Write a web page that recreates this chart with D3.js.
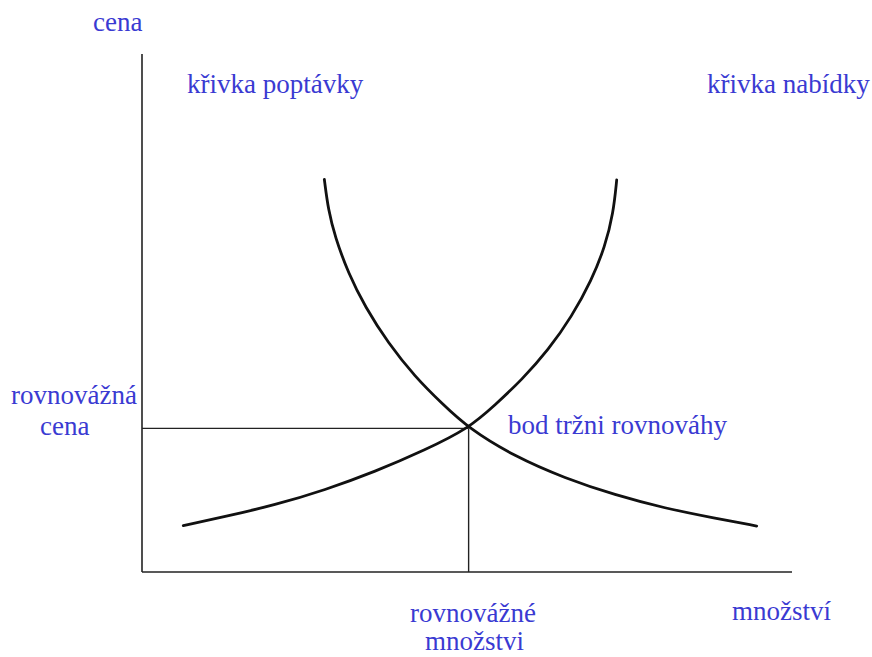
<!DOCTYPE html>
<html>
<head>
<meta charset="utf-8">
<script src="https://cdn.jsdelivr.net/npm/d3@7"></script>
<style>
  body { margin: 0; background: #fff; }
  text { font-family: "Liberation Serif", "Times New Roman", serif; font-size: 27px; fill: #3a3ad2; }
</style>
</head>
<body>
<div id="chart"></div>
<script>
// demand curve (quantity, price)
var demandQ = [28.05, 28.66, 29.69, 31.74, 34.31, 37.89, 42.0, 46.11, 50.25, 57.38, 65.08, 72.77, 80.46, 88.15, 94.57];
var demandP = [75.81, 69.88, 64.73, 57.66, 51.22, 44.15, 37.7, 32.57, 27.72, 22.26, 18.09, 14.86, 12.30, 10.37, 8.88];
// supply curve (quantity, price)
var supplyQ = [6.35, 12.77, 20.46, 28.15, 35.85, 43.54, 50.25, 54.31, 58.42, 62.51, 66.11, 69.18, 71.23, 72.51, 73.03];
var supplyP = [8.94, 10.68, 12.93, 15.83, 19.36, 23.55, 27.72, 32.24, 37.07, 42.86, 49.29, 56.37, 62.80, 69.25, 75.68];
// equilibrium
var eqQ = 50.25;
var eqP = 27.72;

function base(){
    var w = 872;
    var h = 657;

    var svg = d3.select("#chart")
    .append("svg")
    .attr("width", w)
    .attr("height", h);

    var xScale = d3.scaleLinear().domain([0, 100]).range([142, 792]);
    var yScale = d3.scaleLinear().domain([0, 100]).range([572, 54]);

    var line = d3.line()
    .x(function(d) { return xScale(d[0]); })
    .y(function(d) { return yScale(d[1]); })
    .curve(d3.curveBasis);

    //axes
    svg.append("line")
    .attr("x1", xScale(0)).attr("x2", xScale(0))
    .attr("y1", yScale(0)).attr("y2", yScale(100))
    .attr("stroke", "#222").attr("stroke-width", 1.6);
    svg.append("line")
    .attr("x1", xScale(0)).attr("x2", xScale(100))
    .attr("y1", yScale(0)).attr("y2", yScale(0))
    .attr("stroke", "#222").attr("stroke-width", 1.6);

    //equilibrium guides
    svg.append("line")
    .attr("x1", xScale(0)).attr("x2", xScale(eqQ))
    .attr("y1", yScale(eqP)).attr("y2", yScale(eqP))
    .attr("stroke", "#222").attr("stroke-width", 1.4);
    svg.append("line")
    .attr("x1", xScale(eqQ)).attr("x2", xScale(eqQ))
    .attr("y1", yScale(eqP)).attr("y2", yScale(0))
    .attr("stroke", "#222").attr("stroke-width", 1.4);

    //curves
    var demand = demandQ.map(function(q, i) { return [q, demandP[i]]; });
    var supply = supplyQ.map(function(q, i) { return [q, supplyP[i]]; });

    svg.selectAll("path.curve")
    .data([demand, supply])
    .enter()
    .append("path")
    .attr("class", "curve")
    .attr("d", line)
    .attr("fill", "none")
    .attr("stroke", "#111")
    .attr("stroke-width", 2.8)
    .attr("stroke-linecap", "round");

    //labels
    var labels = [
        ["cena", 93, 31],
        ["křivka poptávky", 187, 93],
        ["křivka nabídky", 707, 93],
        ["rovnovážná", 11, 404],
        ["cena", 40, 435],
        ["bod tržni rovnováhy", 508, 434],
        ["rovnovážné", 410, 622],
        ["množstvi", 425, 650],
        ["množství", 732, 620]
    ];
    svg.selectAll("text")
    .data(labels)
    .enter()
    .append("text")
    .attr("x", function(d) { return d[1]; })
    .attr("y", function(d) { return d[2]; })
    .text(function(d) { return d[0]; });
}

window.onload = base;
</script>
</body>
</html>
